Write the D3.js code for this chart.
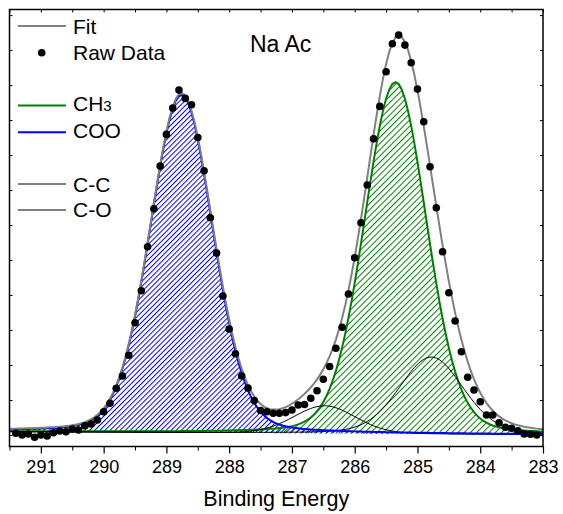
<!DOCTYPE html>
<html>
<head>
<meta charset="utf-8">
<script src="https://cdn.jsdelivr.net/npm/d3@7"></script>
<style>
  html, body { margin: 0; padding: 0; background: #fff; }
  svg text { font-family: "Liberation Sans", Arial, sans-serif; fill: #000; }
</style>
</head>
<body>
<svg id="chart" width="563" height="514"></svg>
<script>
// ---------- DATA ----------
// Raw data: binding energy (eV) and intensity (counts, arbitrary)
const energies = [291.4, 291.3, 291.2, 291.1, 291.0, 290.9, 290.8, 290.7, 290.6, 290.5,
                  290.4, 290.3, 290.2, 290.1, 290.0, 289.9, 289.8, 289.7, 289.6, 289.5,
                  289.4, 289.3, 289.2, 289.1, 289.0, 288.9, 288.8, 288.7, 288.6, 288.5,
                  288.4, 288.3, 288.2, 288.1, 288.0, 287.9, 287.8, 287.7, 287.6, 287.5,
                  287.4, 287.3, 287.2, 287.1, 287.0, 286.9, 286.8, 286.7, 286.6, 286.5,
                  286.4, 286.3, 286.2, 286.1, 286.0, 285.9, 285.8, 285.7, 285.6, 285.5,
                  285.4, 285.3, 285.2, 285.1, 285.0, 284.9, 284.8, 284.7, 284.6, 284.5,
                  284.4, 284.3, 284.2, 284.1, 284.0, 283.9, 283.8, 283.7, 283.6, 283.5,
                  283.4, 283.3, 283.2, 283.1];
const rawCounts = [50, 0, 30, -65, 0, -30, 66, 114, 94, 171,
                   143, 266, 314, 429, 666, 906, 1334, 1686, 2277, 3208,
                   4123, 5380, 6465, 7685, 8591, 9342, 9857, 9620, 9437, 8500,
                   7551, 6208, 5200, 3971, 3028, 2323, 1686, 1343, 986, 700,
                   666, 620, 620, 640, 714, 857, 871, 1049, 1266, 1594,
                   1957, 2477, 3077, 4028, 5065, 6065, 7143, 8463, 9391, 10380,
                   11180, 11428, 11143, 10637, 9885, 8951, 7665, 6494, 5237, 4066,
                   3257, 2380, 1648, 1286, 951, 571, 571, 351, 220, 191,
                   123, 29, 20, 0];

// Fitted components (pseudo-Voigt peaks on a linear background)
const peakNames   = ["CH3", "COO", "C-C", "C-O"];
const peakCenters = [285.35, 288.76, 284.78, 286.48];
const peakHeights = [10050, 9650, 2200, 790];
const peakFwhm    = [1.17, 1.18, 1.2, 1.15];
const peakLorFrac = [0.15, 0.15, 0.2, 0.1];
const bgEnergies  = [291.5, 283.0];
const bgCounts    = [95, 10];

// Axis ticks
const xMajorTicks = [291, 290, 289, 288, 287, 286, 285, 284, 283];
const xMinorTicks = [291.5, 290.5, 289.5, 288.5, 287.5, 286.5, 285.5, 284.5, 283.5];
const yTicks = [0, 1000, 2000, 3000, 4000, 5000, 6000, 7000, 8000, 9000, 10000, 11000, 12000];

// Legend / labels
const legendLabels = ["Fit", "Raw Data", "CH3", "COO", "C-C", "C-O"];
const sampleTitle = "Na Ac";
const xAxisTitle = "Binding Energy";

// ---------- CHART ----------
const svg = d3.select("#chart");
const L = 9.5, R = 543, T = 9.5, B = 446.5;

const x = d3.scaleLinear().domain([291.5, 283.0]).range([L, R]);
const y = d3.scaleLinear().domain([-329, 12160]).range([B, T]);

const bg = d3.scaleLinear().domain(bgEnergies).range(bgCounts);
function pv(E, i) {
  const d = (E - peakCenters[i]) / peakFwhm[i];
  const g = Math.exp(-4 * Math.LN2 * d * d);
  const l = 1 / (1 + 4 * d * d);
  return peakHeights[i] * ((1 - peakLorFrac[i]) * g + peakLorFrac[i] * l);
}
const grid = d3.range(0, 171).map(k => 291.5 - k * 0.05);

const defs = svg.append("defs");
defs.append("clipPath").attr("id", "plotclip")
  .append("rect").attr("x", L).attr("y", T).attr("width", R - L).attr("height", B - T);

function hatch(id, color, spacing) {
  const p = defs.append("pattern").attr("id", id)
    .attr("patternUnits", "userSpaceOnUse")
    .attr("width", spacing).attr("height", spacing)
    .attr("patternTransform", "rotate(45)");
  p.append("line").attr("x1", 0.5).attr("y1", 0).attr("x2", 0.5).attr("y2", spacing)
    .attr("stroke", color).attr("stroke-width", 1);
}
hatch("hatchGreen", "#008000", 4.4);
hatch("hatchBlue", "#0000ff", 3.6);

const plot = svg.append("g").attr("clip-path", "url(#plotclip)");

const area = i => d3.area()
  .x(E => x(E))
  .y0(E => y(bg(E)))
  .y1(E => y(bg(E) + pv(E, i)));
const line = f => d3.line().x(E => x(E)).y(E => y(f(E)));

// hatched fills
plot.append("path").datum(grid).attr("d", area(0)).attr("fill", "url(#hatchGreen)");
plot.append("path").datum(grid).attr("d", area(1)).attr("fill", "url(#hatchBlue)");

// component lines
const compColor = ["#008000", "#0000ff", "#000000", "#000000"];
const compWidth = [2, 2, 1, 1];
[0, 2, 3, 1].forEach(i => {
  plot.append("path").datum(grid)
    .attr("d", line(E => bg(E) + pv(E, i)))
    .attr("fill", "none").attr("stroke", compColor[i]).attr("stroke-width", compWidth[i]);
});

// fit envelope
plot.append("path").datum(grid)
  .attr("d", line(E => bg(E) + peakCenters.reduce((s, _, i) => s + pv(E, i), 0)))
  .attr("fill", "none").attr("stroke", "#808080").attr("stroke-width", 2);

// raw data
plot.selectAll("circle.raw").data(energies).enter().append("circle")
  .attr("class", "raw")
  .attr("cx", (E) => x(E))
  .attr("cy", (E, i) => y(rawCounts[i]))
  .attr("r", 3.8).attr("fill", "#000");

// ---------- AXES ----------
const xAxis = d3.axisBottom(x).tickValues(xMajorTicks).tickSize(7).tickPadding(7)
  .tickFormat(d3.format("d"));
const gx = svg.append("g").attr("transform", `translate(0,${B})`).call(xAxis);
gx.select(".domain").remove();
gx.selectAll("text").attr("font-size", 18).attr("font-family", "Liberation Sans, Arial, sans-serif");
gx.selectAll("line").attr("stroke-width", 1.2);

const gxm = svg.append("g").attr("transform", `translate(0,${B})`)
  .call(d3.axisBottom(x).tickValues(xMinorTicks).tickSize(4).tickFormat(""));
gxm.select(".domain").remove();

// top ticks (inward)
const gxt = svg.append("g").attr("transform", `translate(0,${T})`)
  .call(d3.axisBottom(x).tickValues(xMajorTicks.concat(xMinorTicks)).tickSize(3).tickFormat(""));
gxt.select(".domain").remove();

// left / right ticks (inward, no labels)
const gyl = svg.append("g").attr("transform", `translate(${L},0)`)
  .call(d3.axisRight(y).tickValues(yTicks).tickSize(3).tickFormat(""));
gyl.select(".domain").remove();
const gyr = svg.append("g").attr("transform", `translate(${R},0)`)
  .call(d3.axisLeft(y).tickValues(yTicks).tickSize(3).tickFormat(""));
gyr.select(".domain").remove();

// frame
svg.append("rect").attr("x", L).attr("y", T).attr("width", R - L).attr("height", B - T)
  .attr("fill", "none").attr("stroke", "#000").attr("stroke-width", 1.5);

// axis title
svg.append("text").attr("x", (L + R) / 2).attr("y", 506)
  .attr("text-anchor", "middle").attr("font-size", 21.5).text(xAxisTitle);

// sample title
svg.append("text").attr("x", 250).attr("y", 52).attr("font-size", 23).text(sampleTitle);

// ---------- LEGEND ----------
const leg = svg.append("g");
const lx0 = 18, lx1 = 66, tx = 73;
const lfs = 21;
// Fit
leg.append("line").attr("x1", lx0).attr("x2", lx1).attr("y1", 26).attr("y2", 26)
  .attr("stroke", "#808080").attr("stroke-width", 2);
leg.append("text").attr("x", tx).attr("y", 34).attr("font-size", lfs).text(legendLabels[0]);
// Raw data
leg.append("circle").attr("cx", 41.7).attr("cy", 52.7).attr("r", 3.8).attr("fill", "#000");
leg.append("text").attr("x", tx).attr("y", 60).attr("font-size", lfs).text(legendLabels[1]);
// CH3
leg.append("line").attr("x1", lx0).attr("x2", lx1).attr("y1", 105.5).attr("y2", 105.5)
  .attr("stroke", "#008000").attr("stroke-width", 2);
const tCH = leg.append("text").attr("x", tx).attr("y", 111).attr("font-size", lfs);
tCH.append("tspan").text(legendLabels[2].slice(0, 2));
tCH.append("tspan").attr("font-size", 15).text(legendLabels[2].slice(2));
// COO
leg.append("line").attr("x1", lx0).attr("x2", lx1).attr("y1", 132.3).attr("y2", 132.3)
  .attr("stroke", "#0000ff").attr("stroke-width", 2);
leg.append("text").attr("x", tx).attr("y", 138).attr("font-size", lfs).text(legendLabels[3]);
// C-C
leg.append("line").attr("x1", lx0).attr("x2", lx1).attr("y1", 184).attr("y2", 184)
  .attr("stroke", "#000").attr("stroke-width", 1);
leg.append("text").attr("x", tx).attr("y", 191.5).attr("font-size", lfs).text(legendLabels[4]);
// C-O
leg.append("line").attr("x1", lx0).attr("x2", lx1).attr("y1", 210).attr("y2", 210)
  .attr("stroke", "#000").attr("stroke-width", 1);
leg.append("text").attr("x", tx).attr("y", 217).attr("font-size", lfs).text(legendLabels[5]);
</script>
</body>
</html>
